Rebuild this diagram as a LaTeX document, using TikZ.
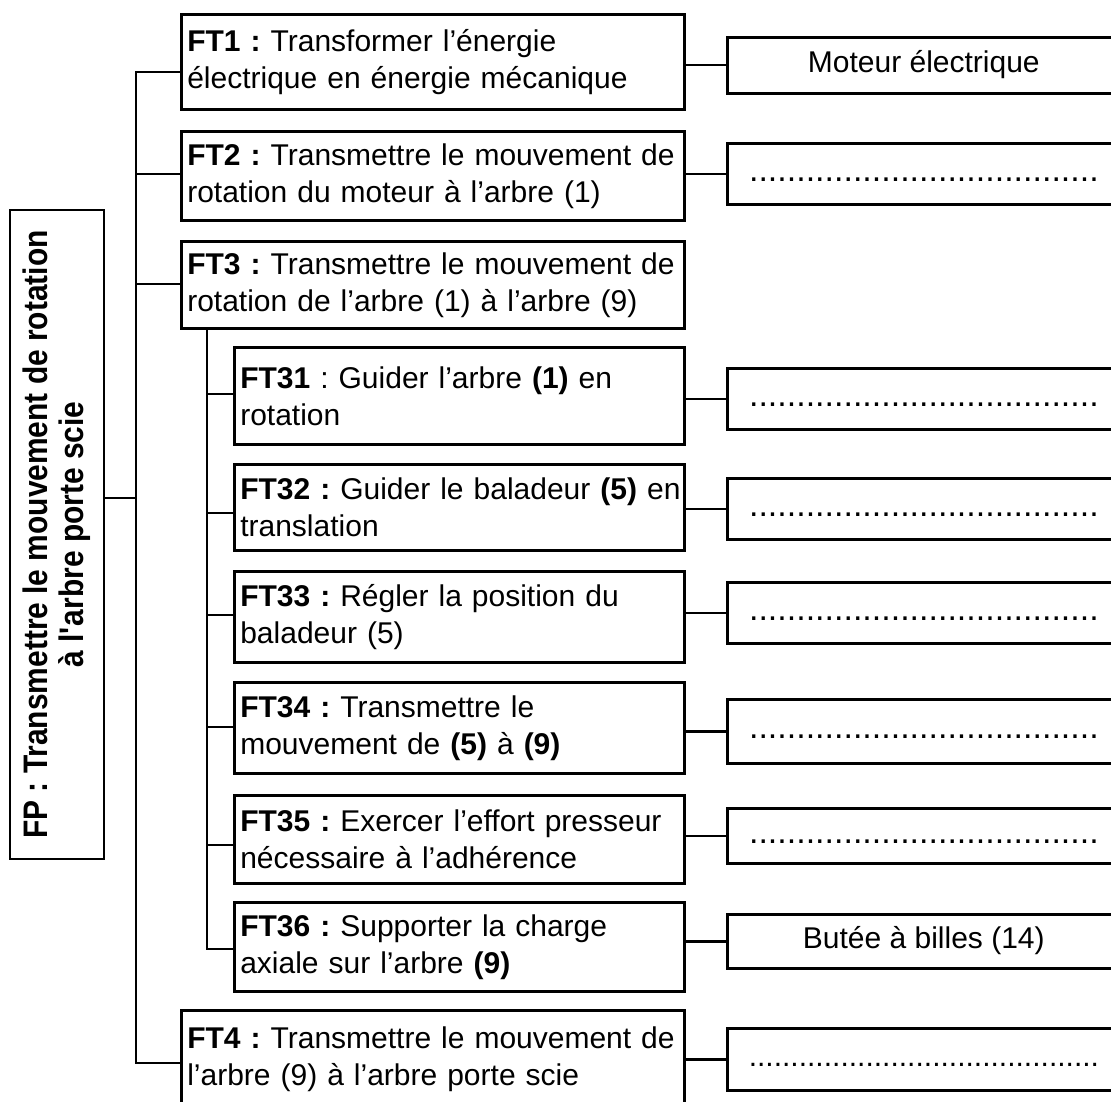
\documentclass[tikz,border=0pt]{standalone}
\usepackage{fontspec}
\setmainfont{Liberation Sans}
\newfontfamily\fpfont{Liberation Sans}[FakeStretch=0.88]
\usetikzlibrary{positioning}
\frenchspacing
\newcommand{\pointilles}[2]{{\fontsize{#1}{37}\selectfont\foreach \i in {1,...,#2}{.}}}
\tikzset{
  boite/.style={draw, line width=2.6pt, anchor=north west, inner xsep=6pt, align=left, font=\fontsize{30}{37}\selectfont},
  ft/.style={boite, text width=491pt},
  fts/.style={boite, text width=438pt},
  sol/.style={draw, line width=2.6pt, anchor=north west, minimum width=393pt, text height=22pt, text depth=7pt, font=\fontsize{30}{37}\selectfont},
  fp/.style={draw, line width=2.6pt, rotate=90, align=center, minimum width=649pt, minimum height=94pt, font=\fpfont\fontsize{34}{36}\selectfont\bfseries},
  lien/.style={line width=2.4pt, line cap=rect}
}
\begin{document}
\begin{tikzpicture}[x=1pt, y=-1pt]
\useasboundingbox (0,0) rectangle (1111,1102);
\clip (0,0) rectangle (1111,1102);
% fonction principale
\node[fp] (fp) at (57,534.5) {FP : Transmettre le mouvement de rotation\\ à l\textquotesingle arbre porte scie};
% fonctions techniques
\node[ft, minimum height=95pt] (ft1) at (180,13) {\textbf{FT1 :} Transformer l’énergie\\ électrique en énergie mécanique};
\node[ft, minimum height=89pt] (ft2) at (180,130) {\textbf{FT2 :} Transmettre le mouvement de\\ rotation du moteur à l’arbre (1)};
\node[ft, minimum height=87pt] (ft3) at (180,240) {\textbf{FT3 :} Transmettre le mouvement de\\ rotation de l’arbre (1) à l’arbre (9)};
\node[fts, minimum height=97pt] (ft31) at (233,346) {\textbf{FT31} : Guider l’arbre \textbf{(1)} en\\ rotation};
\node[fts, minimum height=86pt] (ft32) at (233,463) {\mbox{\textbf{FT32 :} Guider le baladeur \textbf{(5)} en}\\ translation};
\node[fts, minimum height=91pt] (ft33) at (233,570) {\textbf{FT33 :} Régler la position du\\ baladeur (5)};
\node[fts, minimum height=91pt] (ft34) at (233,681) {\textbf{FT34 :} Transmettre le\\ mouvement de \textbf{(5)} à \textbf{(9)}};
\node[fts, minimum height=88pt] (ft35) at (233,794) {\textbf{FT35 :} Exercer l’effort presseur\\ nécessaire à l’adhérence};
\node[fts, minimum height=89pt] (ft36) at (233,901) {\textbf{FT36 :} Supporter la charge\\ axiale sur l’arbre \textbf{(9)}};
\node[ft, minimum height=97pt] (ft4) at (180,1009) {\textbf{FT4 :} Transmettre le mouvement de\\ l’arbre (9) à l’arbre porte scie};
% solutions
\node[sol, minimum height=56pt] (s1) at (726,36) {Moteur électrique};
\node[sol, minimum height=61pt] (s2) at (726,142) {\pointilles{34}{37}};
\node[sol, minimum height=61pt] (s31) at (726,367) {\pointilles{34}{37}};
\node[sol, minimum height=61pt] (s32) at (726,477) {\pointilles{34}{37}};
\node[sol, minimum height=61pt] (s33) at (726,581) {\pointilles{34}{37}};
\node[sol, minimum height=64pt] (s34) at (726,698) {\pointilles{34}{37}};
\node[sol, minimum height=55pt] (s35) at (726,807) {\pointilles{34}{37}};
\node[sol, minimum height=54pt] (s36) at (726,913) {Butée à billes (14)};
\node[sol, minimum height=62pt] (s4) at (726,1027) {\pointilles{30}{42}};
% arborescence
\coordinate (b-fp) at (136,498);
\foreach \n/\y in {ft1/72, ft2/174, ft3/284, ft4/1063}
  \coordinate (b-\n) at (136,\y);
\foreach \n/\y in {ft31/394, ft32/513, ft33/615, ft34/727, ft35/845, ft36/949}
  \coordinate (b-\n) at (207,\y);
\draw[lien] (b-ft1) -- (b-ft4);
\draw[lien] (ft3.south -| b-ft31) -- (b-ft36);
\draw[lien] (fp.south |- b-fp) -- (b-fp);
\foreach \n in {ft1,ft2,ft3,ft4,ft31,ft32,ft33,ft34,ft35,ft36}
  \draw[lien] (b-\n) -- (b-\n -| \n.west);
\foreach \n/\s in {ft1/s1, ft2/s2, ft31/s31, ft32/s32, ft33/s33, ft34/s34, ft35/s35, ft36/s36, ft4/s4}
  \draw[lien] (\s.west) -- (\s.west -| \n.east);
\end{tikzpicture}
\end{document}
